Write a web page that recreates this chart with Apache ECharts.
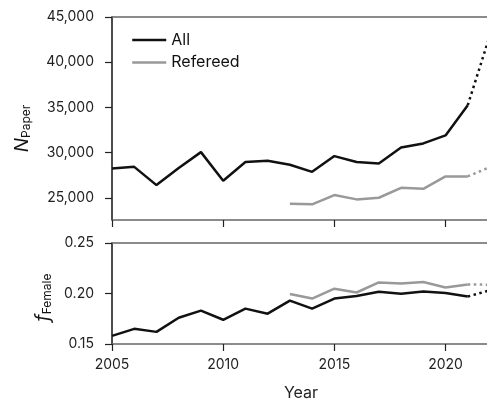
<!DOCTYPE html>
<html>
<head>
<meta charset="utf-8">
<script src="https://cdn.jsdelivr.net/npm/echarts@6/dist/echarts.min.js"></script>
<style>html,body{margin:0;padding:0;background:#fff}#c{width:487px;height:402px}</style>
</head>
<body>
<div id="c"></div>
<script>
// ---- data ----
const years = [2005,2006,2007,2008,2009,2010,2011,2012,2013,2014,2015,2016,2017,2018,2019,2020,2021];
const nAll = [28250,28420,26400,28300,30050,26880,28950,29090,28650,27870,29610,28950,28800,30570,31010,31900,35240];
const refYears = [2013,2014,2015,2016,2017,2018,2019,2020,2021];
const nRef = [24340,24270,25300,24820,25000,26100,25990,27360,27360];
const projYears = [2021,2022];
const nAllProj = [35240,43000];
const nRefProj = [27360,28400];
const fAll = [0.158,0.165,0.162,0.176,0.183,0.174,0.185,0.180,0.193,0.185,0.195,0.1975,0.2018,0.1998,0.202,0.2005,0.197];
const fRef = [0.1995,0.195,0.2048,0.201,0.211,0.210,0.2114,0.206,0.209];
const fAllProj = [0.197,0.2032];
const fRefProj = [0.209,0.2087];
const xTicks = [2005,2010,2015,2020];
const nTicks = [25000,30000,35000,40000,45000];
const fTicks = [0.15,0.20,0.25];

const pairs = (xs, ys) => xs.map((x,i)=>[x, ys[i]]);
const FONT = 'Inter';
const BLACK = '#111';
const GREY = '#999';
const AX = '#666';

const chart = echarts.init(document.getElementById('c'), null, {renderer:'canvas'});
const baseX = (gi, show) => ({
  type:'value', gridIndex:gi, min:2005, max:2022, interval:5,
  axisLine:{show:true, lineStyle:{color:AX, width:1.5}},
  axisTick:{show:true, length:7, lineStyle:{color:'#222', width:1.2}, customValues: xTicks},
  axisLabel:{show:show, customValues: xTicks, formatter:v=>String(v), fontFamily:FONT, fontSize:14, color:'#222', margin:14},
  splitLine:{show:false}
});
const topX = (gi) => ({
  type:'value', gridIndex:gi, position:'top', min:2005, max:2022,
  axisLine:{show:true, lineStyle:{color:AX, width:1.5}},
  axisTick:{show:false}, axisLabel:{show:false}, splitLine:{show:false}
});
const lineS = (name, xi, yi, data, color, dotted) => ({
  name, type:'line', xAxisIndex:xi, yAxisIndex:yi, data, symbol:'none', showSymbol:false,
  lineStyle: dotted ? {color, width:2.5, type:[2.5,3.5]} : {color, width:2.5},
  itemStyle:{color}, silent:true, animation:false, z: dotted?2:3
});

chart.setOption({
  animation:false,
  textStyle:{fontFamily:FONT},
  grid:[
    {left:112, right:-3, top:17, height:203, outerBoundsMode:'none'},
    {left:112, right:-3, top:243, height:101, outerBoundsMode:'none'}
  ],
  legend:{
    data:['All','Refereed'], orient:'vertical', left:126, top:27,
    itemWidth:34, itemHeight:14, itemGap:6.5, selectedMode:false,
    itemStyle:{opacity:0},
    lineStyle:{width:2.5},
    textStyle:{fontFamily:FONT, fontSize:16, color:'#111'}
  },
  xAxis:[
    baseX(0,false),
    Object.assign(baseX(1,true), {name:'Year', nameLocation:'middle', nameGap:41,
      nameTextStyle:{fontFamily:FONT, fontSize:16, color:'#222'}}),
    topX(0), topX(1)
  ],
  yAxis:[
    {type:'value', gridIndex:0, min:22540, max:45000,
     axisLine:{show:true, lineStyle:{color:BLACK, width:1.5}},
     axisTick:{show:true, length:7, customValues:nTicks, lineStyle:{color:'#222', width:1.2}},
     axisLabel:{customValues:nTicks, formatter:v=>Number(v).toLocaleString('en-US'),
       fontFamily:FONT, fontSize:14, color:'#222', margin:18},
     splitLine:{show:false},
     name:'{n|N}{s|Paper}', nameLocation:'middle', nameGap:80,
     nameTextStyle:{padding:[0,20,0,0], rich:{
       n:{fontFamily:FONT, fontStyle:'italic', fontSize:19, color:'#111'},
       s:{fontFamily:FONT, fontSize:12, color:'#111', padding:[8,0,0,0]}
     }}},
    {type:'value', gridIndex:1, min:0.15, max:0.25,
     axisLine:{show:true, lineStyle:{color:BLACK, width:1.5}},
     axisTick:{show:true, length:7, customValues:fTicks, lineStyle:{color:'#222', width:1.2}},
     axisLabel:{customValues:fTicks, formatter:v=>Number(v).toFixed(2),
       fontFamily:FONT, fontSize:14, color:'#222', margin:18},
     splitLine:{show:false},
     name:'{n|f}{s|Female}', nameLocation:'middle', nameGap:59,
     nameTextStyle:{padding:[0,8,0,0], rich:{
       n:{fontFamily:FONT, fontStyle:'italic', fontSize:19, color:'#111'},
       s:{fontFamily:FONT, fontSize:12, color:'#111', padding:[8,0,0,0]}
     }}}
  ],
  series:[
    lineS('All',0,0,pairs(years,nAll),BLACK,false),
    lineS('Refereed',0,0,pairs(refYears,nRef),GREY,false),
    lineS('All proj',0,0,pairs(projYears,nAllProj),BLACK,true),
    lineS('Refereed proj',0,0,pairs(projYears,nRefProj),GREY,true),
    lineS('All f',1,1,pairs(years,fAll),BLACK,false),
    lineS('Refereed f',1,1,pairs(refYears,fRef),GREY,false),
    lineS('All f proj',1,1,pairs(projYears,fAllProj),BLACK,true),
    lineS('Refereed f proj',1,1,pairs(projYears,fRefProj),GREY,true)
  ]
});
</script>
</body>
</html>
